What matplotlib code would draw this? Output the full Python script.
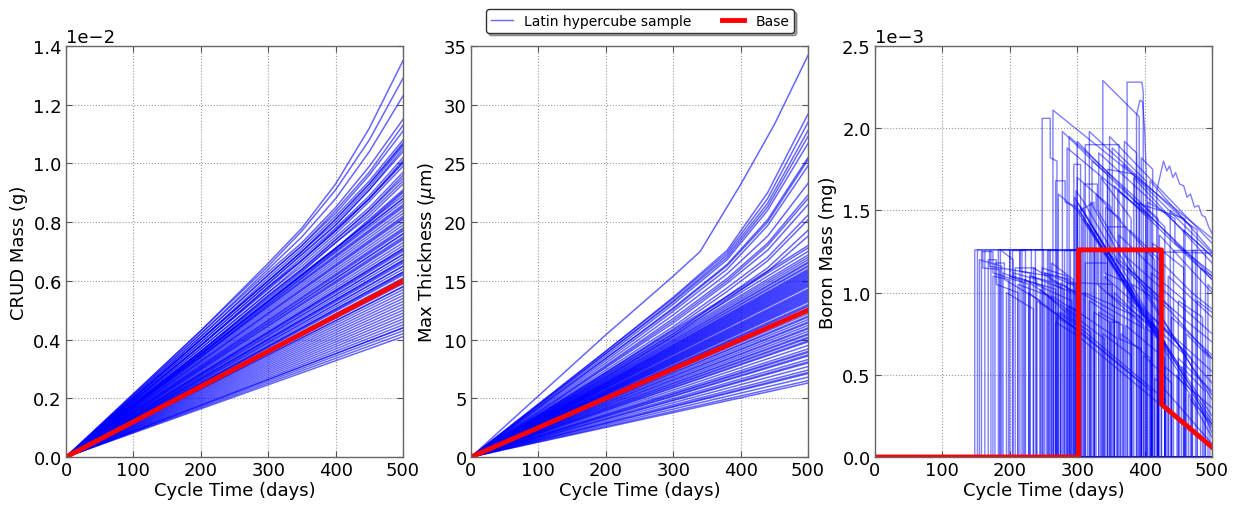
import numpy as np
import matplotlib
matplotlib.use('Agg')
import matplotlib.pyplot as plt
from matplotlib.lines import Line2D

# ---------------- data ----------------
# CRUD mass (x1e-2 g). Curved upper samples on a finer time grid,
# the rest of the samples are straight lines from the origin (end value only).
crud_t_upper = [0, 100, 200, 300, 350, 400, 450, 500]
crud_upper = [
    [0.215, 0.43, 0.66, 0.78, 0.93, 1.12, 1.35], [0.215, 0.43, 0.65, 0.77, 0.91, 1.08, 1.29],
    [0.21, 0.42, 0.64, 0.75, 0.88, 1.04, 1.23], [0.21, 0.42, 0.63, 0.73, 0.85, 0.99, 1.15],
    [0.205, 0.41, 0.62, 0.72, 0.84, 0.97, 1.13], [0.205, 0.41, 0.62, 0.72, 0.83, 0.96, 1.11],
    [0.20, 0.40, 0.61, 0.71, 0.82, 0.94, 1.08], [0.20, 0.40, 0.60, 0.70, 0.81, 0.93, 1.07],
    [0.20, 0.40, 0.60, 0.70, 0.80, 0.92, 1.06], [0.195, 0.39, 0.59, 0.69, 0.79, 0.91, 1.05],
    [0.195, 0.39, 0.59, 0.69, 0.79, 0.91, 1.04], [0.19, 0.38, 0.58, 0.68, 0.78, 0.89, 1.02],
    [0.19, 0.38, 0.58, 0.67, 0.77, 0.88, 1.01], [0.19, 0.38, 0.57, 0.67, 0.77, 0.88, 1.00],
    [0.185, 0.37, 0.56, 0.66, 0.76, 0.87, 0.99], [0.185, 0.37, 0.56, 0.65, 0.75, 0.85, 0.97],
    [0.18, 0.36, 0.55, 0.64, 0.74, 0.84, 0.96], [0.18, 0.36, 0.55, 0.64, 0.74, 0.84, 0.95],
    [0.18, 0.36, 0.54, 0.63, 0.73, 0.82, 0.93], [0.175, 0.35, 0.53, 0.62, 0.71, 0.81, 0.91],
    [0.175, 0.35, 0.53, 0.62, 0.71, 0.80, 0.90], [0.17, 0.34, 0.52, 0.61, 0.70, 0.79, 0.88],
    [0.2, 0.40, 0.60, 0.70, 0.81, 0.93, 1.065], [0.19, 0.38, 0.575, 0.67, 0.775, 0.88, 1.005],
    [0.18, 0.36, 0.545, 0.635, 0.73, 0.83, 0.94], [0.175, 0.35, 0.53, 0.62, 0.71, 0.805, 0.905],
]
crud_lower_end = [0.87, 0.86, 0.84, 0.83, 0.81, 0.80, 0.78, 0.77, 0.75, 0.74, 0.72, 0.71, 0.70,
                  0.68, 0.67, 0.66, 0.64, 0.63, 0.62, 0.59, 0.57, 0.56, 0.55, 0.53, 0.52, 0.50,
                  0.49, 0.48, 0.46, 0.45, 0.44, 0.43, 0.42, 0.41, 0.65, 0.61, 0.58, 0.69, 0.76,
                  0.89, 0.88, 0.85, 0.82, 0.79, 0.76, 0.73, 0.71, 0.69, 0.67, 0.65, 0.63, 0.60,
                  0.58, 0.54, 0.51, 0.47, 0.44, 0.855, 0.815, 0.775, 0.745, 0.705, 0.665, 0.625]
crud_base_end = 0.60

# Max thickness (um)
thick_t_top = [0, 100, 200, 300, 340, 400, 450, 500]
thick_top = [0, 5.2, 10.4, 15.4, 17.5, 23.2, 28.3, 34.2]
thick_t_upper = [0, 100, 200, 300, 380, 440, 500]
thick_upper = [
    [4.5, 9.0, 13.6, 17.6, 22.5, 29.2], [4.5, 9.0, 13.5, 17.4, 22.0, 28.5],
    [4.4, 8.8, 13.3, 17.2, 21.6, 27.8], [4.4, 8.8, 13.2, 17.0, 21.3, 27.3],
    [4.3, 8.6, 13.0, 16.8, 21.0, 26.7], [4.2, 8.4, 12.7, 16.4, 20.2, 25.5],
    [4.2, 8.4, 12.6, 16.3, 20.0, 25.3], [4.1, 8.2, 12.4, 16.0, 19.7, 24.8],
    [4.0, 8.0, 12.1, 15.6, 18.8, 23.3], [3.9, 7.8, 11.8, 15.2, 18.2, 22.3],
    [3.8, 7.7, 11.6, 15.0, 18.0, 22.0], [3.8, 7.6, 11.4, 14.8, 17.6, 21.5],
    [3.7, 7.4, 11.1, 14.4, 17.0, 20.6], [3.6, 7.2, 10.9, 14.1, 16.7, 20.2],
    [3.5, 7.0, 10.5, 13.7, 16.1, 19.3], [3.4, 6.8, 10.3, 13.4, 15.8, 18.8],
]
thick_lower_end = [18.0, 17.5, 17.2, 16.8, 16.5, 16.2, 16.0, 15.7, 15.4, 15.2, 15.0, 14.7, 14.5,
                   14.2, 14.0, 13.7, 13.5, 13.2, 13.0, 12.8, 12.2, 12.0, 11.7, 11.4, 11.0, 10.7,
                   10.4, 10.1, 9.8, 9.5, 9.2, 8.9, 8.6, 8.3, 8.0, 7.7, 7.4, 7.1, 6.8, 6.5, 6.3,
                   15.9, 15.6, 14.9, 13.9, 13.4, 17.8, 17.0, 16.6, 16.3, 15.8, 15.5, 15.3, 15.1,
                   14.8, 14.6, 14.3, 14.1, 13.8, 13.6, 13.3, 12.9, 12.6, 12.4, 11.9, 11.5, 11.2,
                   10.9, 10.5, 10.2, 9.9, 9.0, 8.7, 8.1, 7.2]
thick_base_end = 12.5

# Boron mass (x1e-3 mg): breakpoints (t, value) for each sample
boron_lines = [
    [(0,0),(148,0),(148,1.26),(160,1.26),(160,1.15),(185,1.14),(185,0),(205,0),(205,1.12),(240,1.08),(240,0),(500,0)],
    [(0,0),(158,0),(158,1.25),(175,1.25),(175,1.12),(220,1.06),(220,0),(262,0),(262,0.98),(300,0.88),(300,0),(500,0)],
    [(0,0),(163,0),(163,1.26),(200,1.26),(200,1.10),(250,1.04),(250,0),(310,0),(310,1.0),(355,0.92),(355,0),(500,0)],
    [(0,0),(168,0),(168,1.2),(180,1.2),(180,1.05),(212,1.0),(212,0),(270,0),(270,0.85),(298,0.78),(298,0),(500,0)],
    [(0,0),(172,0),(172,1.26),(215,1.26),(215,1.13),(260,1.10),(260,0),(285,0),(285,1.06),(302,1.05),(302,0),(500,0)],
    [(0,0),(178,0),(178,1.18),(192,1.18),(192,1.08),(245,0.95),(245,0),(275,0),(275,0.88),(320,0.76),(320,0),(500,0)],
    [(0,0),(183,0),(183,1.26),(250,1.26),(250,1.12),(290,1.08),(290,0),(500,0)],
    [(0,0),(190,0),(190,1.12),(228,1.05),(228,0),(255,0),(255,0.98),(300,0.86),(300,0),(338,0),(338,0.75),(380,0.62),(380,0),(500,0)],
    [(0,0),(195,0),(195,1.0),(235,0.9),(235,0),(268,0),(268,0.82),(300,0.74),(420,0.33),(420,0),(500,0)],
    [(0,0),(200,0),(200,1.26),(232,1.26),(232,1.1),(280,1.02),(280,0),(500,0)],
    [(0,0),(208,0),(208,1.15),(238,1.15),(238,1.05),(292,0.95),(292,0),(325,0),(325,0.88),(348,0.82),(348,0),(500,0)],
    [(0,0),(215,0),(215,1.26),(270,1.26),(270,1.1),(300,1.05),(300,0),(500,0)],
    [(0,0),(222,0),(222,1.08),(265,0.96),(265,0),(295,0),(295,0.9),(360,0.72),(360,0),(500,0)],
    [(0,0),(230,0),(230,1.1),(275,1.05),(275,0),(305,0),(305,1.0),(400,0.78),(400,0),(500,0)],
    [(0,0),(238,0),(238,1.26),(300,1.26),(300,1.06),(352,1.05),(352,0.92),(390,0.85),(390,0),(500,0)],
    [(0,0),(245,0),(245,1.02),(300,0.82),(300,0),(500,0)],
    [(0,0),(252,0),(252,1.12),(297,1.04),(297,0),(500,0)],
    [(0,0),(258,0),(258,1.26),(300,1.26),(500,1.24)],
    [(0,0),(265,0),(265,1.05),(292,1.0),(292,0),(500,0)],
    [(0,0),(280,0),(280,1.26),(298,1.26),(298,0),(500,0)],
    [(0,0),(152,0),(152,1.26),(170,1.26),(170,1.16),(230,1.12),(230,0),(500,0)],
    [(0,0),(186,0),(186,1.26),(205,1.20),(205,1.1),(268,1.02),(268,0),(288,0),(288,0.92),(305,0.88),(305,0),(500,0)],
    [(0,0),(212,0),(212,1.05),(258,0.98),(258,0),(500,0)],
    [(0,0),(218,0),(218,1.26),(260,1.26),(260,1.08),(300,1.0),(300,0),(500,0)],
    [(0,0),(248,0),(248,1.15),(285,1.1),(285,0),(500,0)],
    [(0,0),(255,0),(255,1.26),(300,1.26),(300,0),(500,0)],
    [(0,0),(288,0),(288,1.02),(300,1.0),(300,0),(500,0)],
    [(0,0),(155,0),(155,1.2),(188,1.16),(188,0),(500,0)],
    [(0,0),(175,0),(175,1.1),(198,1.08),(198,0),(500,0)],
    [(0,0),(203,0),(203,1.26),(222,1.26),(222,0),(500,0)],
    [(0,0),(235,0),(235,1.15),(272,1.06),(272,0),(500,0)],
    [(0,0),(262,0),(262,1.18),(294,1.08),(294,0),(500,0)],
    [(0,0),(276,0),(276,1.06),(300,0.98),(300,0),(500,0)],
    # lower diagonal envelope
    [(0,0),(240,0),(240,0.95),(300,0.78),(410,0.40),(410,0),(500,0)],
    [(0,0),(228,0),(228,1.0),(300,0.77),(395,0.45),(395,0),(500,0)],
    [(0,0),(270,0),(270,0.88),(300,0.8),(430,0.35),(430,0),(500,0)],
    [(0,0),(282,0),(282,0.9),(340,0.72),(340,0),(500,0)],
    # middle group
    [(0,0),(305,0),(305,1.26),(330,1.26),(330,1.05),(420,0.72),(420,0),(450,0),(450,0.6),(500,0.4)],
    [(0,0),(312,0),(312,1.18),(345,1.18),(345,1.0),(410,0.80),(410,0),(500,0)],
    [(0,0),(318,0),(318,0.95),(355,0.85),(355,0),(372,0),(372,0.8),(430,0.6),(430,0),(500,0)],
    [(0,0),(325,0),(325,1.26),(375,1.26),(375,0.95),(460,0.62),(460,0),(500,0)],
    [(0,0),(332,0),(332,0.88),(368,0.8),(368,0),(500,0)],
    [(0,0),(340,0),(340,1.1),(395,0.9),(395,0),(412,0),(412,0.85),(500,0.52)],
    [(0,0),(350,0),(350,0.82),(362,0.82),(362,0.72),(395,0.66),(395,0),(500,0)],
    [(0,0),(358,0),(358,1.26),(400,1.26),(400,0.9),(470,0.6),(470,0),(500,0)],
    [(0,0),(365,0),(365,0.75),(408,0.6),(408,0),(500,0)],
    [(0,0),(382,0),(382,1.05),(420,0.95),(420,0),(440,0),(440,0.85),(500,0.62)],
    [(0,0),(402,0),(402,1.26),(418,1.26),(418,0),(500,0)],
    [(0,0),(398,0),(398,0.62),(440,0.45),(440,0),(500,0)],
    [(0,0),(345,0),(345,1.40),(372,1.40),(372,1.22),(500,0.75)],
    [(0,0),(378,0),(378,1.38),(470,1.0),(500,0.9)],
    [(0,0),(410,0),(410,1.12),(460,0.95),(460,0),(500,0)],
    [(0,0),(336,0),(336,1.28),(440,0.88),(500,0.6)],
    [(0,0),(375,0),(375,1.15),(455,0.85),(500,0.7)],
    [(0,0),(355,0),(355,1.0),(430,0.7),(430,0),(500,0)],
    [(0,0),(290,0),(290,1.26),(340,1.26),(340,1.12),(380,1.05),(380,0),(500,0)],
    [(0,0),(362,0),(362,1.35),(425,1.1),(425,0),(500,0)],
    [(0,0),(412,0),(412,1.30),(458,1.15),(458,0),(500,0)],
    # steep diagonal bundle
    [(0,0),(268,0),(268,1.68),(282,1.68),(282,1.55),(300,1.52),(432,0.65),(432,0),(500,0)],
    [(0,0),(300,0),(300,1.55),(445,0.58),(500,0.22)],
    [(0,0),(303,0),(303,1.50),(420,0.72),(420,0),(448,0),(448,0.5),(500,0.18)],
    [(0,0),(308,0),(308,1.45),(470,0.42),(500,0.15)],
    [(0,0),(315,0),(315,1.42),(395,0.9),(395,0),(465,0),(465,0.38),(500,0.12)],
    [(0,0),(320,0),(320,1.55),(360,1.25),(440,0.75),(500,0.35)],
    [(0,0),(272,0),(272,1.60),(300,1.50),(425,0.68),(500,0.2)],
    [(0,0),(296,0),(296,1.58),(420,0.74),(420,0),(500,0)],
    [(0,0),(306,0),(306,1.52),(380,1.02),(380,0),(410,0),(410,0.82),(500,0.25)],
    [(0,0),(298,0),(298,1.62),(310,1.55),(435,0.66),(435,0),(500,0)],
    [(0,0),(326,0),(326,1.38),(452,0.55),(452,0),(500,0)],
    [(0,0),(310,0),(310,1.66),(330,1.66),(330,1.50),(470,0.55),(500,0.38)],
    [(0,0),(328,0),(328,1.60),(415,1.2),(415,0),(500,0)],
    # upper group
    [(0,0),(248,0),(248,2.06),(260,2.06),(260,1.82),(270,1.80),(270,0),(500,0)],
    [(0,0),(264,0),(264,2.11),(500,1.33)],
    [(0,0),(278,0),(278,1.98),(500,1.10)],
    [(0,0),(288,0),(288,1.95),(420,1.45),(420,0),(500,0)],
    [(0,0),(295,0),(295,1.78),(305,1.78),(305,1.50),(325,1.55),(325,0),(500,0)],
    [(0,0),(312,0),(312,1.90),(362,1.90),(362,1.2),(440,0.9),(440,0),(500,0)],
    [(0,0),(332,0),(332,1.85),(500,1.22)],
    [(0,0),(338,0),(338,2.29),(392,2.07),(392,0),(500,0)],
    [(0,0),(374,0),(374,2.28),(396,2.28),(398,2.22),(398,0),(500,0)],
    [(0,0),(388,0),(388,2.08),(393,2.17),(397,2.16),(400,2.0),(404,1.55),(404,0),(500,0)],
    [(0,0),(345,0),(345,1.75),(385,1.72),(385,1.55),(460,1.45),(460,0),(500,0)],
    [(0,0),(418,0),(418,1.62),(428,1.80),(433,1.74),(437,1.77),(442,1.70),(446,1.73),(452,1.66),(458,1.65),
     (463,1.58),(468,1.60),(474,1.52),(480,1.53),(485,1.47),(490,1.46),(495,1.40),(500,1.36)],
    [(0,0),(355,0),(355,1.65),(500,1.08)],
    [(0,0),(405,0),(405,1.55),(445,1.45),(445,1.30),(500,1.12)],
    [(0,0),(300,0),(300,1.70),(350,1.52),(350,0),(500,0)],
    [(0,0),(285,0),(285,1.88),(402,1.48),(402,0),(500,0)],
    [(0,0),(318,0),(318,1.98),(470,1.40),(470,0),(500,0)],
    [(0,0),(300,0),(300,1.92),(500,1.08)],
    [(0,0),(360,0),(360,1.62),(410,1.45),(410,0),(500,0)],
    [(0,0),(392,0),(392,1.55),(430,1.40),(430,0),(500,0)],
    [(0,0),(335,0),(335,1.7),(380,1.45),(380,0),(500,0)],
    [(0,0),(352,0),(352,1.88),(402,1.68),(402,0),(500,0)],
    [(0,0),(368,0),(368,1.78),(500,1.24)],
    [(0,0),(322,0),(322,1.80),(345,1.72),(345,0),(500,0)],
    [(0,0),(342,0),(342,1.52),(364,1.45),(364,0),(500,0)],
    [(0,0),(348,0),(348,1.95),(500,1.30)],
    [(0,0),(370,0),(370,1.92),(388,1.85),(388,0),(500,0)],
    [(0,0),(384,0),(384,1.70),(500,1.18)],
    [(0,0),(395,0),(395,1.82),(412,1.75),(412,0),(500,0)],
    [(0,0),(408,0),(408,1.68),(500,1.25)],
    # late samples
    [(0,0),(425,0),(425,0.8),(500,0.45)],
    [(0,0),(435,0),(435,1.1),(500,0.85)],
    [(0,0),(455,0),(455,0.55),(490,0.4),(490,0),(500,0)],
    [(0,0),(470,0),(470,1.26),(490,1.26),(490,0),(500,0)],
    [(0,0),(478,0),(478,0.95),(500,0.88)],
    [(0,0),(430,0),(430,0.55),(500,0.3)],
    [(0,0),(442,0),(442,1.26),(475,1.26),(475,0),(500,0)],
    [(0,0),(462,0),(462,0.75),(497,0.6),(497,0),(500,0)],
    [(0,0),(483,0),(483,1.15),(500,1.1)],
    [(0,0),(450,0),(450,0.95),(486,0.85),(486,0),(500,0)],
    [(0,0),(415,0),(415,0.48),(500,0.08)],
    [(0,0),(422,0),(422,1.35),(500,1.0)],
    [(0,0),(438,0),(438,1.50),(478,1.38),(478,0),(500,0)],
    [(0,0),(458,0),(458,1.38),(500,1.22)],
    [(0,0),(468,0),(468,0.35),(500,0.2)],
    [(0,0),(488,0),(488,0.65),(500,0.6)],
    [(0,0),(494,0),(494,1.05),(500,1.02)],
]
boron_base = [(0,0),(302,0),(302,1.26),(425,1.26),(425,0.32),(500,0.06)]

# ---------------- plotting ----------------
plt.rcParams['font.family'] = 'DejaVu Sans'
plt.rcParams['font.size'] = 13

fig = plt.figure(figsize=(12.37, 5.06), dpi=100)
lefts = [66/1237, 471/1237, 875/1237]
w = 337/1237
bottom = 48/506
h = 411/506
axes = [fig.add_axes([l, bottom, w, h]) for l in lefts]

blue_kw = dict(color='blue', lw=1.1, alpha=0.6)
red_kw = dict(color='red', lw=3.5)

ax = axes[0]
for row in crud_upper:
    ax.plot(crud_t_upper, np.array([0] + row) * 1e-2, **blue_kw)
for e in crud_lower_end:
    ax.plot([0, 500], [0, e * 1e-2], **blue_kw)
ax.plot([0, 500], [0, crud_base_end * 1e-2], **red_kw)
ax.set_ylim(0, 0.014)
ax.set_ylabel('CRUD Mass (g)')

ax = axes[1]
ax.plot(thick_t_top, thick_top, **blue_kw)
for row in thick_upper:
    ax.plot(thick_t_upper, [0] + row, **blue_kw)
for e in thick_lower_end:
    ax.plot([0, 500], [0, e], **blue_kw)
ax.plot([0, 500], [0, thick_base_end], **red_kw)
ax.set_ylim(0, 35)
ax.set_ylabel(r'Max Thickness ($\mu$m)')

ax = axes[2]
for pts in boron_lines:
    tt, yy = zip(*pts)
    ax.plot(tt, np.array(yy) * 1e-3, color='blue', lw=1.0, alpha=0.5)
tt, yy = zip(*boron_base)
ax.plot(tt, np.array(yy) * 1e-3, **red_kw)
ax.set_ylim(0, 0.0025)
ax.set_ylabel('Boron Mass (mg)')

for ax in axes:
    ax.set_xlim(0, 500)
    ax.set_xticks([0, 100, 200, 300, 400, 500])
    ax.set_xlabel('Cycle Time (days)', labelpad=1)
    ax.grid(True, linestyle=':', color='#999999', lw=0.8)
    ax.tick_params(direction='in', top=True, right=True, length=4, color='#555555', labelsize=13, pad=3)
    for s in ax.spines.values():
        s.set_color('#666666')
        s.set_linewidth(1.0)
    ax.yaxis.get_offset_text().set_fontsize(13)

for ax in (axes[0], axes[2]):
    ax.ticklabel_format(axis='y', style='sci', scilimits=(0, 0))

handles = [Line2D([], [], color='blue', lw=1.0, alpha=0.6), Line2D([], [], color='red', lw=3.5)]
fig.legend(handles, ['Latin hypercube sample', 'Base'], ncol=2, loc='center',
           bbox_to_anchor=(640/1237, 1 - 22/506), fontsize=10, shadow=True, fancybox=True,
           handlelength=1.6, columnspacing=2.2, borderpad=0.35, edgecolor='#333333', framealpha=1)

fig.savefig('out.png', dpi=100)
